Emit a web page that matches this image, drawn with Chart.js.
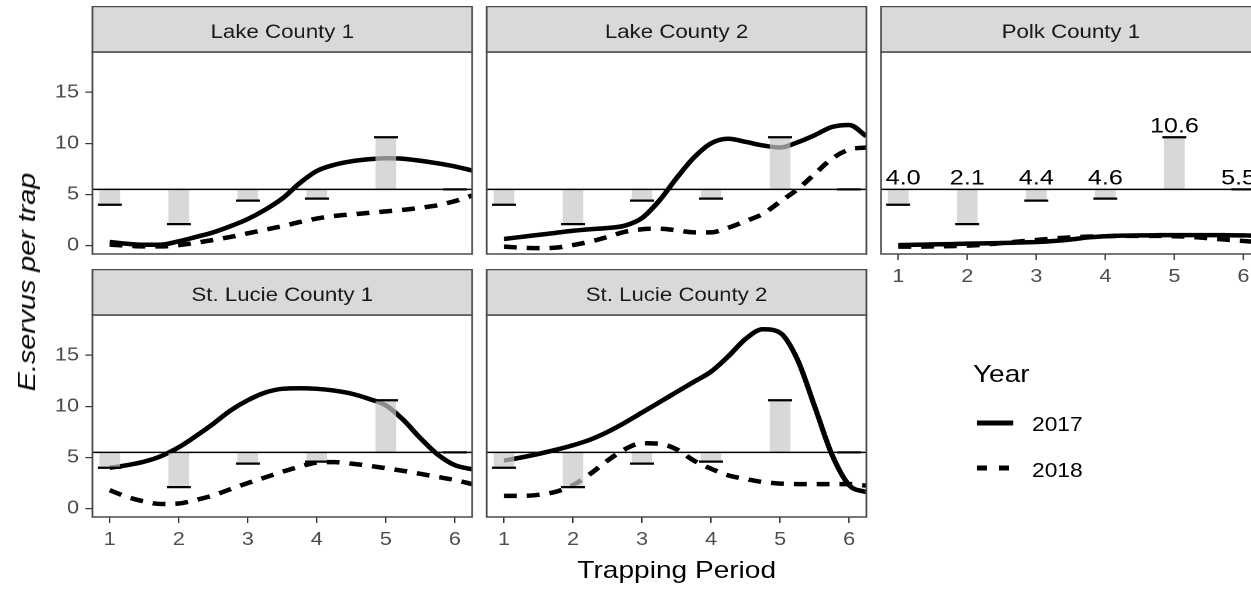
<!DOCTYPE html>
<html><head><meta charset="utf-8">
<script src="https://cdn.jsdelivr.net/npm/chart.js@4.4.1/dist/chart.umd.min.js"></script>
<style>
html,body{margin:0;padding:0;background:#fff;overflow:hidden;width:1251px;height:592px;}
#wrap{position:absolute;left:0;top:0;width:1070px;height:592px;transform:scaleX(1.17);transform-origin:0 0;font-family:'Liberation Sans',Arial,Helvetica,sans-serif;overflow:visible;}
#wrap canvas{position:absolute;}
.t{position:absolute;white-space:nowrap;line-height:1;color:#000;}
#xtitle{left:378.4px;top:558px;width:400px;text-align:center;font-size:24px;}
#legTitle{left:831.6px;top:361.7px;font-size:24px;}
#leg17{left:882px;top:414.5px;font-size:19.5px;}
#leg18{left:882px;top:460.5px;font-size:19.5px;}
#key17{position:absolute;left:834px;top:412.7px;}
#key18{position:absolute;left:834px;top:458.3px;}
#ytitle{position:absolute;left:-123.5px;top:267px;width:300px;height:30px;line-height:30px;text-align:center;font-size:24.5px;font-style:italic;font-family:'Liberation Sans',Arial,Helvetica,sans-serif;color:#000;transform:rotate(-90deg) scaleX(1.17);transform-origin:50% 50%;white-space:nowrap;}
</style></head><body>
<div id="wrap">
  <div class="t" id="xtitle">Trapping Period</div>
  <div class="t" id="legTitle">Year</div>
  <svg id="key17" width="34" height="20"><line x1="1" y1="10" x2="32" y2="10" stroke="#000" stroke-width="5"/></svg>
  <div class="t" id="leg17">2017</div>
  <svg id="key18" width="34" height="20"><line x1="1" y1="10" x2="30" y2="10" stroke="#000" stroke-width="5" stroke-dasharray="8.6 10.2"/></svg>
  <div class="t" id="leg18">2018</div>
</div>
<div id="ytitle">E.servus per trap</div>
<script>
// ---------- data ----------
const periods = [1, 2, 3, 4, 5, 6];
const xTickValues = [1, 2, 3, 4, 5, 6];
const yTickValues = [0, 5, 10, 15];
const thresholdValue = 5.5;
const barValues = [4.0, 2.1, 4.4, 4.6, 10.6, 5.5];
const barLabels = ['4.0', '2.1', '4.4', '4.6', '10.6', '5.5'];
const smoothX = [1, 1.25, 1.5, 1.75, 2, 2.25, 2.5, 2.75, 3, 3.25, 3.5, 3.75, 4, 4.25, 4.5, 4.75, 5, 5.25, 5.5, 5.75, 6, 6.25];
const lake1_2017 = [0.35, 0.18, 0.08, 0.1, 0.42, 0.85, 1.3, 1.9, 2.6, 3.5, 4.6, 6.1, 7.3, 7.9, 8.25, 8.45, 8.55, 8.5, 8.3, 8.05, 7.75, 7.35];
const lake1_2018 = [0.1, 0.0, -0.08, -0.08, 0.05, 0.28, 0.55, 0.85, 1.2, 1.55, 1.9, 2.3, 2.65, 2.9, 3.05, 3.2, 3.35, 3.5, 3.7, 3.95, 4.35, 4.9];
const lake2_2017 = [0.65, 0.85, 1.05, 1.25, 1.45, 1.6, 1.72, 1.95, 2.7, 4.4, 6.6, 8.6, 10.0, 10.45, 10.15, 9.8, 9.6, 10.1, 10.8, 11.6, 11.8, 10.7];
const lake2_2018 = [-0.1, -0.2, -0.25, -0.2, 0.05, 0.4, 0.85, 1.35, 1.6, 1.65, 1.5, 1.3, 1.3, 1.75, 2.4, 3.1, 4.3, 5.5, 7.0, 8.5, 9.4, 9.6];
const polk_2017 = [0.05, 0.08, 0.12, 0.15, 0.2, 0.22, 0.25, 0.3, 0.35, 0.45, 0.6, 0.8, 0.92, 0.98, 1.0, 1.02, 1.03, 1.03, 1.03, 1.02, 1.0, 0.95];
const polk_2018 = [-0.1, -0.1, -0.08, -0.05, 0.0, 0.1, 0.25, 0.4, 0.55, 0.7, 0.8, 0.88, 0.92, 0.95, 0.95, 0.95, 0.92, 0.85, 0.72, 0.58, 0.45, 0.35];
const stl1_2017 = [4.0, 4.25, 4.6, 5.15, 6.0, 7.1, 8.3, 9.6, 10.6, 11.35, 11.72, 11.78, 11.72, 11.55, 11.25, 10.75, 10.1, 8.7, 6.9, 5.3, 4.25, 3.85];
const stl1_2018 = [1.8, 1.15, 0.7, 0.45, 0.5, 0.85, 1.3, 1.9, 2.5, 3.05, 3.6, 4.1, 4.5, 4.55, 4.4, 4.2, 3.95, 3.7, 3.4, 3.1, 2.8, 2.4];
const stl2_2017 = [4.7, 5.0, 5.35, 5.75, 6.2, 6.75, 7.5, 8.4, 9.4, 10.4, 11.4, 12.4, 13.4, 14.9, 16.6, 17.55, 17.2, 14.6, 10.0, 5.3, 2.3, 1.6];
const stl2_2018 = [1.25, 1.25, 1.35, 1.65, 2.3, 3.4, 4.7, 5.8, 6.4, 6.35, 5.8, 4.7, 3.9, 3.25, 2.9, 2.6, 2.45, 2.4, 2.4, 2.4, 2.4, 2.25];
const panelTitles = ['Lake County 1', 'Lake County 2', 'Polk County 1', 'St. Lucie County 1', 'St. Lucie County 2'];

// ---------- layout ----------
const FONT = "'Liberation Sans', Arial, Helvetica, sans-serif";
Chart.defaults.font.family = FONT;
const colLeft = [78.6, 416.0, 753.4];
const rowTop = [51.5, 314.5];
const PLOT_W = 324.5, PLOT_H = 202, STRIP_H = 45.5, AX = 50;
const Y_MIN = -0.82, Y_MAX = 18.94, X_MIN = 0.75, X_MAX = 6.25;

const panels = [
  {title: panelTitles[0], s17: lake1_2017, s18: lake1_2018, col: 0, row: 0, showY: true,  showX: false, labels: false},
  {title: panelTitles[1], s17: lake2_2017, s18: lake2_2018, col: 1, row: 0, showY: false, showX: false, labels: false},
  {title: panelTitles[2], s17: polk_2017,  s18: polk_2018,  col: 2, row: 0, showY: false, showX: true,  labels: true},
  {title: panelTitles[3], s17: stl1_2017,  s18: stl1_2018,  col: 0, row: 1, showY: true,  showX: true,  labels: false},
  {title: panelTitles[4], s17: stl2_2017,  s18: stl2_2018,  col: 1, row: 1, showY: false, showX: true,  labels: false}
];

const facetPlugin = {
  id: 'facet',
  afterDatasetsDraw(chart, args, opts) {
    const {ctx, chartArea: a, scales: {x, y}} = chart;
    const w = a.right - a.left;
    ctx.save();
    // reference line
    const hy = y.getPixelForValue(thresholdValue);
    ctx.beginPath();
    ctx.moveTo(a.left, hy); ctx.lineTo(a.right, hy);
    ctx.lineWidth = 1.5; ctx.strokeStyle = '#000'; ctx.stroke();
    // value labels
    if (opts.labels) {
      ctx.font = '21.5px ' + FONT;
      ctx.fillStyle = '#000';
      ctx.textAlign = 'center';
      ctx.textBaseline = 'alphabetic';
      periods.forEach((p, i) => {
        const tw = ctx.measureText(barLabels[i]).width;
        let cx = x.getPixelForValue(p);
        cx = Math.max(cx, a.left + tw / 2 + 4);
        cx = Math.min(cx, a.right - tw / 2 - 4);
        const cy = y.getPixelForValue(Math.max(barValues[i], thresholdValue)) - 5;
        ctx.fillText(barLabels[i], cx, cy);
      });
    }
    // panel border
    ctx.lineWidth = 1.5; ctx.strokeStyle = '#4a4a4a';
    ctx.strokeRect(a.left, a.top, w, a.bottom - a.top);
    // strip
    ctx.fillStyle = '#D9D9D9';
    ctx.fillRect(a.left, a.top - STRIP_H, w, STRIP_H);
    ctx.strokeRect(a.left, a.top - STRIP_H, w, STRIP_H);
    ctx.fillStyle = '#1A1A1A';
    ctx.font = '19px ' + FONT;
    ctx.textAlign = 'center';
    ctx.textBaseline = 'alphabetic';
    ctx.fillText(opts.title, a.left + w / 2, a.top - 14);
    ctx.restore();
  }
};

const wrap = document.getElementById('wrap');
panels.forEach(p => {
  const cw = AX + PLOT_W + 6.5;
  const W = Math.round(cw), H = 46 + PLOT_H + AX;
  const canvas = document.createElement('canvas');
  canvas.width = W; canvas.height = H;
  canvas.style.left = (colLeft[p.col] - AX) + 'px';
  canvas.style.top = (rowTop[p.row] - 46) + 'px';
  canvas.style.width = W + 'px';
  canvas.style.height = H + 'px';
  wrap.appendChild(canvas);
  new Chart(canvas, {
    type: 'bar',
    data: {
      datasets: [
        {type: 'line', label: '2017', data: smoothX.map((v, i) => ({x: v, y: p.s17[i]})),
         borderColor: '#000', borderWidth: 4.5, pointRadius: 0, fill: false,
         cubicInterpolationMode: 'monotone', clip: 0, order: 3},
        {type: 'line', label: '2018', data: smoothX.map((v, i) => ({x: v, y: p.s18[i]})),
         borderColor: '#000', borderWidth: 4.5, borderDash: [11, 8.5], pointRadius: 0, fill: false,
         cubicInterpolationMode: 'monotone', clip: 0, order: 3},
        {type: 'bar', label: 'bars', data: periods.map((v, i) => ({x: v, y: [thresholdValue, barValues[i]]})),
         backgroundColor: 'rgba(200,200,200,0.7)', borderWidth: 0, barPercentage: 0.3, categoryPercentage: 1,
         order: 2},
        {type: 'scatter', label: 'ticks', data: periods.map((v, i) => ({x: v, y: barValues[i]})),
         pointStyle: 'line', pointRadius: 10.25, pointBorderWidth: 2.2, pointBorderColor: '#000',
         borderColor: '#000', borderWidth: 2.2, order: 1}
      ]
    },
    options: {
      responsive: false, animation: false, devicePixelRatio: 2, events: [],
      layout: {autoPadding: false, padding: {top: 46, right: cw - AX - PLOT_W + (W - cw), left: p.showY ? 0 : AX, bottom: p.showX ? 0 : AX}},
      plugins: {legend: {display: false}, tooltip: {enabled: false}, facet: {title: p.title, labels: p.labels}},
      scales: {
        x: {type: 'linear', min: X_MIN, max: X_MAX, offset: false, display: p.showX,
            afterBuildTicks: s => { s.ticks = xTickValues.map(v => ({value: v})); },
            afterFit: p.showX ? (s => { s.height = AX; }) : undefined,
            ticks: {color: '#4D4D4D', font: {size: 18.5}, padding: 6, maxRotation: 0, autoSkip: false},
            grid: {display: true, drawOnChartArea: false, drawTicks: true, tickLength: 6, tickColor: '#333', lineWidth: 1.2, offset: false},
            border: {display: false}},
        y: {type: 'linear', min: Y_MIN, max: Y_MAX, display: p.showY,
            afterBuildTicks: s => { s.ticks = yTickValues.map(v => ({value: v})); },
            afterFit: p.showY ? (s => { s.width = AX; }) : undefined,
            ticks: {color: '#4D4D4D', font: {size: 18.5}, padding: 5.5, autoSkip: false},
            grid: {display: true, drawOnChartArea: false, drawTicks: true, tickLength: 6, tickColor: '#333', lineWidth: 1.2},
            border: {display: false}}
      }
    },
    plugins: [facetPlugin]
  });
});
</script>
</body></html>
